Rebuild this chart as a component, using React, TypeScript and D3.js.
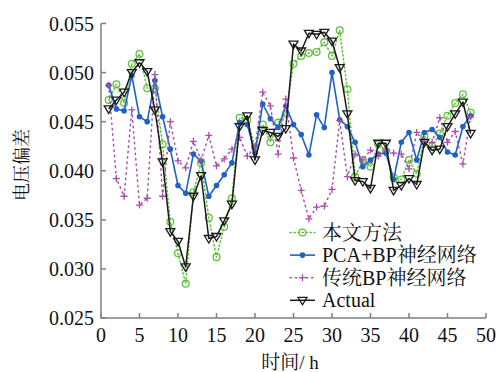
import React from "react";
import * as d3 from "d3";

const hours: number[] = Array.from({ length: 48 }, (_, i) => i + 1);

const proposed: number[] = [
  0.0472, 0.0488, 0.0469, 0.0509, 0.0519, 0.0484, 0.0484, 0.0427, 0.0348, 0.0316,
  0.0285, 0.0378, 0.0408, 0.0352, 0.0312, 0.0343, 0.0372, 0.0454, 0.0452, 0.0424,
  0.0447, 0.0429, 0.0449, 0.0458, 0.0509, 0.0517, 0.0520, 0.0521, 0.0531, 0.0517,
  0.0543, 0.0483, 0.0394, 0.0411, 0.0404, 0.0427, 0.0420, 0.0393, 0.0391, 0.0411,
  0.0397, 0.0435, 0.0425, 0.0438, 0.0456, 0.0469, 0.0478, 0.0459,
];

const pcaBp: number[] = [
  0.0487, 0.0463, 0.0461, 0.0497, 0.0455, 0.0450, 0.0492, 0.0455, 0.0422, 0.0385,
  0.0377, 0.0417, 0.0410, 0.0374, 0.0385, 0.0396, 0.0408, 0.0449, 0.0447, 0.0418,
  0.0468, 0.0453, 0.0444, 0.0466, 0.0447, 0.0437, 0.0416, 0.0457, 0.0444, 0.0500,
  0.0452, 0.0445, 0.0429, 0.0404, 0.0411, 0.0417, 0.0418, 0.0391, 0.0429, 0.0439,
  0.0411, 0.0439, 0.0442, 0.0434, 0.0419, 0.0416, 0.0445, 0.0456,
];

const tradBp: number[] = [
  0.0487, 0.0392, 0.0374, 0.0462, 0.0365, 0.0372, 0.0498, 0.0374, 0.0450, 0.0410,
  0.0403, 0.0430, 0.0411, 0.0436, 0.0405, 0.0412, 0.0422, 0.0434, 0.0415, 0.0424,
  0.0480, 0.0466, 0.0417, 0.0473, 0.0413, 0.0380, 0.0351, 0.0363, 0.0364, 0.0381,
  0.0451, 0.0394, 0.0417, 0.0411, 0.0421, 0.0415, 0.0422, 0.0418, 0.0417, 0.0402,
  0.0439, 0.0430, 0.0429, 0.0454, 0.0429, 0.0440, 0.0407, 0.0455,
];

const actual: number[] = [
  0.0463, 0.0472, 0.0480, 0.0500, 0.0510, 0.0501, 0.0462, 0.0409, 0.0338, 0.0328,
  0.0302, 0.0374, 0.0395, 0.0331, 0.0333, 0.0349, 0.0366, 0.0445, 0.0456, 0.0411,
  0.0441, 0.0439, 0.0435, 0.0443, 0.0529, 0.0522, 0.0540, 0.0539, 0.0541, 0.0532,
  0.0505, 0.0458, 0.0390, 0.0389, 0.0382, 0.0428, 0.0428, 0.0380, 0.0385, 0.0392,
  0.0386, 0.0429, 0.0421, 0.0422, 0.0445, 0.0458, 0.0470, 0.0438,
];

const xTicks: number[] = [0, 5, 10, 15, 20, 25, 30, 35, 40, 45, 50];
const yTicks: number[] = [0.025, 0.03, 0.035, 0.04, 0.045, 0.05, 0.055];
const seriesNames: string[] = ["本文方法", "PCA+BP神经网络", "传统BP神经网络", "Actual"];
const xTitle = "时间/ h";
const yTitle = "电压偏差";

const W = 499;
const H = 372;
const FONT = "'Liberation Serif', 'Times New Roman', 'Noto Serif CJK SC', 'Noto Sans CJK SC', serif";

const GREEN = "#62c23e";
const BLUE = "#2160c4";
const PURPLE = "#a94fab";
const BLACK = "#1a1a1a";
const AXIS = "#808080";

type Kind = "circle" | "dot" | "plus" | "tri";

function Marker({ kind, x, y, color }: { kind: Kind; x: number; y: number; color: string }) {
  if (kind === "circle")
    return <circle cx={x} cy={y} r={3.4} fill="none" stroke={color} strokeWidth={1.3} />;
  if (kind === "dot") return <circle cx={x} cy={y} r={2.8} fill={color} />;
  if (kind === "plus")
    return (
      <path
        d={`M${x - 3.5},${y}H${x + 3.5}M${x},${y - 3.5}V${y + 3.5}`}
        stroke={color}
        strokeWidth={1.3}
        fill="none"
      />
    );
  return (
    <path
      d={`M${x - 4.5},${y - 3}L${x + 4.5},${y - 3}L${x},${y + 4.5}Z`}
      stroke={color}
      strokeWidth={1.3}
      fill="none"
      strokeLinejoin="miter"
    />
  );
}

export default function App() {
  const x = d3.scaleLinear().domain([0, 50]).range([101, 486]);
  const y = d3.scaleLinear().domain([0.025, 0.055]).range([318, 23.5]);

  const series = [
    { name: seriesNames[0], values: proposed, color: GREEN, kind: "circle" as Kind, dash: "1.4,2.6", width: 1.5 },
    { name: seriesNames[1], values: pcaBp, color: BLUE, kind: "dot" as Kind, dash: undefined, width: 1.6 },
    { name: seriesNames[2], values: tradBp, color: PURPLE, kind: "plus" as Kind, dash: "1.4,4", width: 1.5 },
    { name: seriesNames[3], values: actual, color: BLACK, kind: "tri" as Kind, dash: undefined, width: 1.5 },
  ];

  const line = d3
    .line<number>()
    .x((_, i) => x(hours[i]))
    .y((d) => y(d));

  const [x0, x1] = x.range();
  const [yb, yt] = y.range();

  return (
    <svg
      width={W}
      height={H}
      viewBox={`0 0 ${W} ${H}`}
      style={{ position: "absolute", left: 0, top: 0, background: "#fff" }}
      fontFamily={FONT}
    >
      {/* axes */}
      <g stroke={AXIS} strokeWidth={1.5} fill="none">
        <path d={`M${x0},${yt}V${yb}H${x1}`} />
        {yTicks.map((t) => (
          <path key={"yt" + t} d={`M${x0},${y(t)}h5`} />
        ))}
        {xTicks.map((t) => (
          <path key={"xt" + t} d={`M${x(t)},${yb}v-5`} />
        ))}
      </g>
      {yTicks.map((t) => (
        <text
          key={"yl" + t}
          x={94}
          y={y(t)}
          dy="0.35em"
          textAnchor="end"
          fontSize={20}
          fill="#111"
        >
          {d3.format(".3f")(t)}
        </text>
      ))}
      {xTicks.map((t) => (
        <text key={"xl" + t} x={x(t)} y={341.5} textAnchor="middle" fontSize={20} fill="#111">
          {t}
        </text>
      ))}
      <text x={290} y={369} textAnchor="middle" fontSize={19} fill="#111">
        {xTitle}
      </text>
      <text
        transform={`translate(28,${165}) rotate(-90)`}
        textAnchor="middle"
        fontSize={18}
        fill="#111"
      >
        {yTitle}
      </text>

      {/* series */}
      {series.map((s) => (
        <g key={s.name}>
          <path
            d={line(s.values) || ""}
            fill="none"
            stroke={s.color}
            strokeWidth={s.width}
            strokeDasharray={s.dash}
            strokeLinecap={s.dash ? "round" : "butt"}
            strokeLinejoin="round"
          />
          {s.values.map((v, i) => (
            <Marker key={i} kind={s.kind} x={x(hours[i])} y={y(v)} color={s.color} />
          ))}
        </g>
      ))}

      {/* legend */}
      {series.map((s, i) => {
        const cy = 232.5 + i * 22.6;
        return (
          <g key={"lg" + s.name}>
            <path
              d={`M290,${cy}H315`}
              stroke={s.color}
              strokeWidth={s.width}
              strokeDasharray={s.dash}
              strokeLinecap={s.dash ? "round" : "butt"}
            />
            <Marker kind={s.kind} x={302.5} y={cy} color={s.color} />
            <text x={322} y={cy} dy="0.35em" fontSize={20} fill="#111">
              {s.name}
            </text>
          </g>
        );
      })}
    </svg>
  );
}
